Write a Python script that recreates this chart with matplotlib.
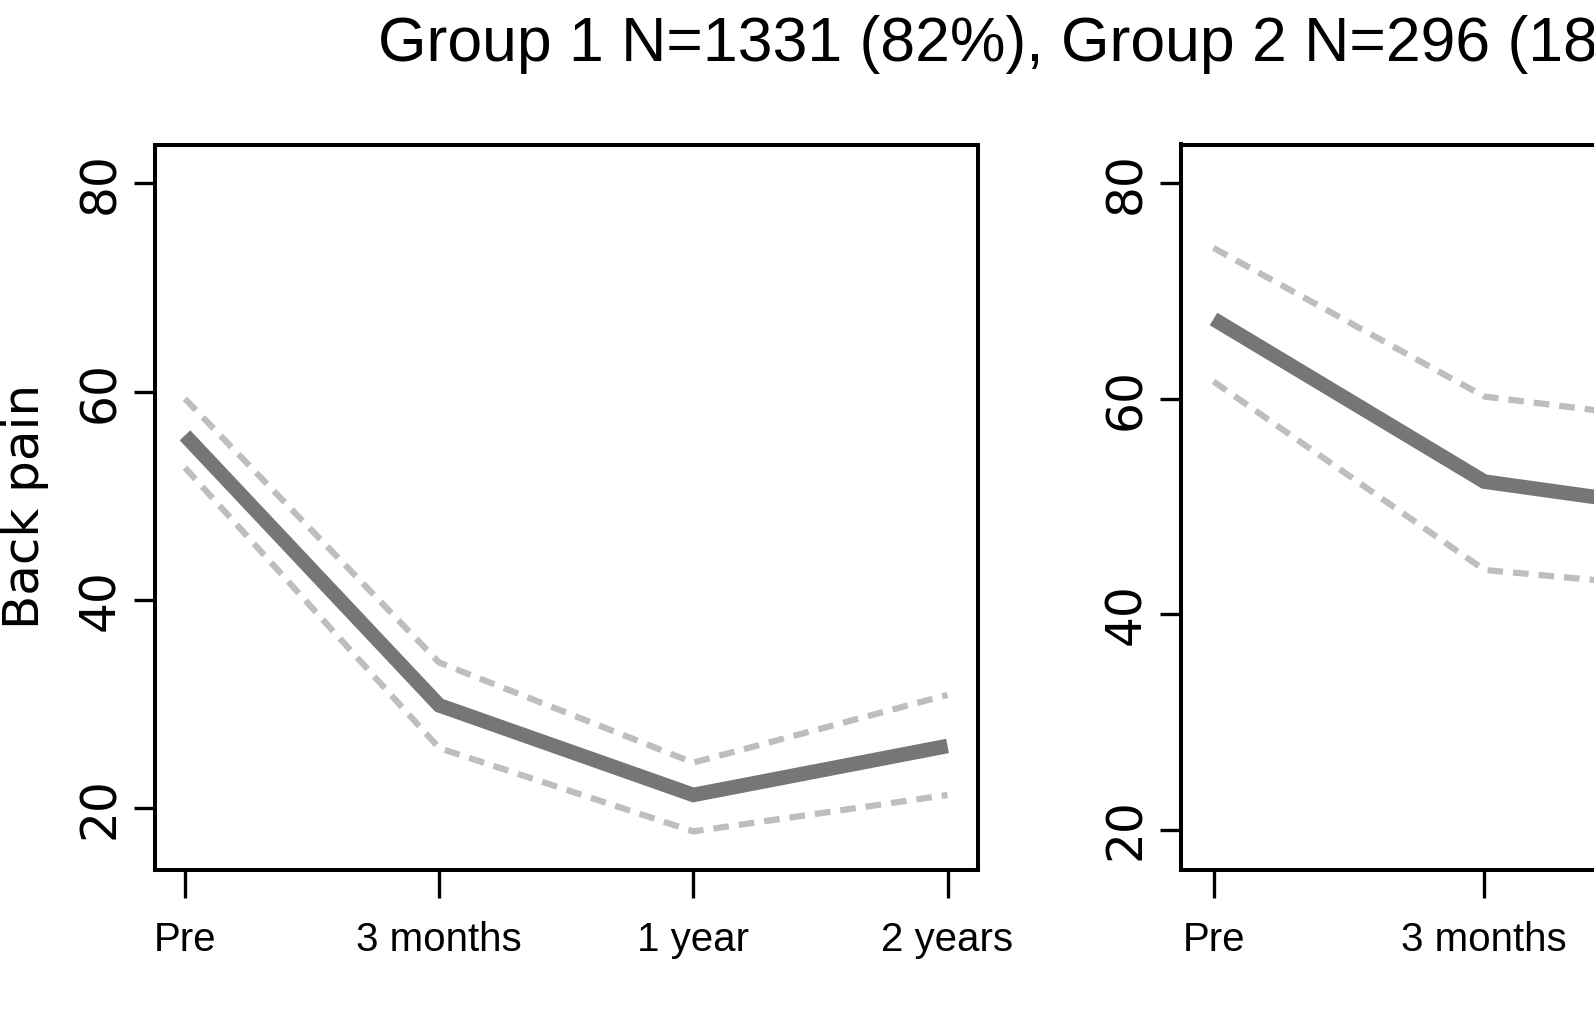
import matplotlib
matplotlib.use("Agg")
import matplotlib.pyplot as plt

# time points
timepoints = ["Pre", "3 months", "1 year", "2 years"]
x_pos = [1, 2, 3, 4]

# Group 1 (left panel)
g1_mean = [55.8, 29.9, 21.3, 26.0]
g1_upper = [59.3, 34.0, 24.4, 30.9]
g1_lower = [52.7, 25.8, 17.8, 21.3]

# Group 2 (right panel, mostly off the edge of the picture)
g2_mean = [67.4, 52.3, 48.8, 50.5]
g2_upper = [74.0, 60.2, 57.1, 58.5]
g2_lower = [61.6, 44.1, 41.8, 42.5]

y_ticks = [20, 40, 60, 80]
title_text = "Group 1 N=1331 (82%), Group 2 N=296 (18%)"
y_label = "Back pain"

NARROW = ["Liberation Sans", "DejaVu Sans"]
WIDE = ["DejaVu Sans"]

W, H = 1594, 1024


def draw_panel(ax, mean, upper, lower, ylim):
    for band in (upper, lower):
        ax.plot(x_pos, band, color="#bebebe", lw=4.5, linestyle=(0, (2.5, 1.6)),
                dash_capstyle="butt")
    ax.plot(x_pos, mean, color="#767676", lw=10.5, solid_capstyle="butt",
            solid_joinstyle="miter")
    ax.set_xlim(0.88, 4.12)
    ax.set_ylim(ylim)
    ax.set_xticks(x_pos)
    ax.set_xticklabels(timepoints, fontfamily=NARROW, fontsize=29)
    ax.set_yticks(y_ticks)
    ax.set_yticklabels([str(v) for v in y_ticks], fontfamily=WIDE, fontsize=35,
                       rotation=90, va="center")
    ax.tick_params(axis="x", length=20, width=2.4, pad=17, color="black")
    ax.tick_params(axis="y", length=15, width=2.4, pad=7, color="black")
    for sp in ax.spines.values():
        sp.set_linewidth(2.9)
        sp.set_color("black")


def main():
    fig = plt.figure(figsize=(W / 100, H / 100), dpi=100)

    y0 = 1 - 870 / H
    h = (870 - 144.5) / H
    ax1 = fig.add_axes([154.5 / W, y0, 823.5 / W, h])
    ax2 = fig.add_axes([1181 / W, y0, 877.6 / W, h])

    draw_panel(ax1, g1_mean, g1_upper, g1_lower, (14.1, 83.7))
    draw_panel(ax2, g2_mean, g2_upper, g2_lower, (16.24, 83.6))

    fig.text(25 / W, 1 - 506 / H, y_label, rotation=90, ha="center", va="center",
             fontfamily=WIDE, fontsize=36)
    fig.text(378 / W, 1 - 61 / H, title_text, ha="left", va="baseline",
             fontfamily=NARROW, fontsize=45)

    fig.savefig("out.png", dpi=100)
    plt.close(fig)


if __name__ == "__main__":
    main()
